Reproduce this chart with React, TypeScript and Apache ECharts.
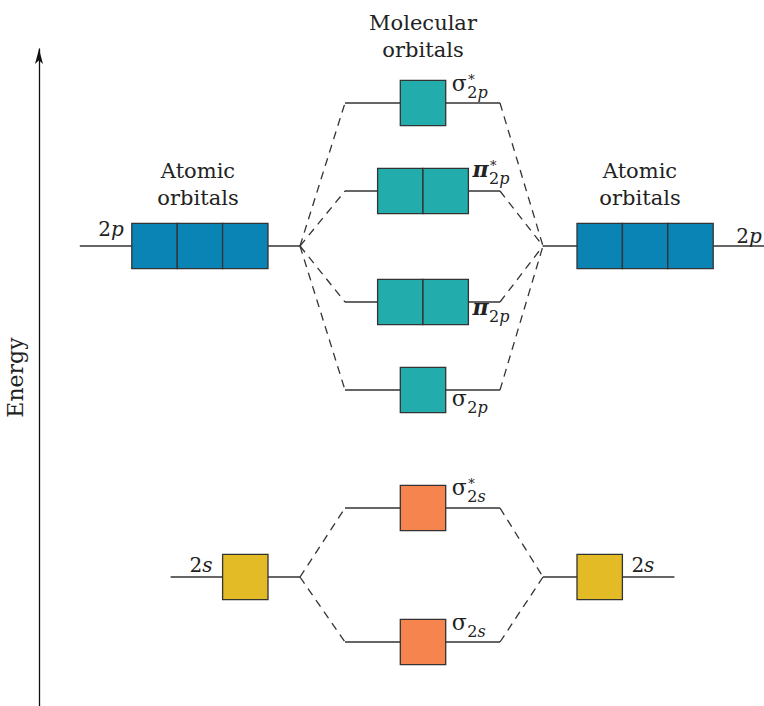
import React, { useEffect, useRef } from "react";
import * as echarts from "echarts";

// ---- data ----
// atomic orbital levels (identical on both atoms)
const aoNames = ["2p", "2s"];
const aoEnergy = [460, 129];
const aoBoxCount = [3, 1];

// molecular orbital levels
const moGreek = ["σ", "π", "π", "σ", "σ", "σ"];
const moStar = [true, true, false, false, true, false];
const moSub = ["2p", "2p", "2p", "2p", "2s", "2s"];
const moEnergy = [603, 515, 404, 316, 198, 64];
const moBoxCount = [1, 2, 2, 1, 1, 1];
const moParent = [0, 0, 0, 0, 1, 1]; // index into aoNames

const axisTitle = "Energy";
const moTitle = "Molecular\norbitals";
const aoTitle = "Atomic\norbitals";

// ---- layout / style ----
const L = {
  xMin: 39,
  xMax: 764,
  yMax: 657,
  aoInnerL: 268,
  aoInnerR: 577,
  joinL: 300,
  joinR: 543,
  moL: 345,
  moR: 500,
  moC: 423,
  stub: 52,
  box: 45.4,
};
const moLabelDx = [6, 4, 4, 6, 6, 6];
const moLabelDy = [-12, -14, 13, 16, -13, -12]; // greek baseline relative to level
const aoLabelLeft = [
  { dx: -8, dy: -10 },
  { dx: -10, dy: -5 },
];
const aoLabelRight = [
  { dx: 23, dy: -3 },
  { dx: 9, dy: -5 },
];
const aoColors = ["#0A84B4", "#E2BB26"];
const moColors = ["#22ACAC", "#F5844F"];
const ink = "#333333";
const textInk = "#222222";
const FAMILY = '"DejaVu Serif", serif';
const GREEK_SIZE = 22;
const SUB_SIZE = 16;
const STAR_SIZE = 13;

function measure(text: string, font: string): number {
  const ctx = document.createElement("canvas").getContext("2d");
  if (!ctx) return text.length * 11;
  ctx.font = font;
  return ctx.measureText(text).width;
}

function subRich(sub: string) {
  return "{n|" + sub.slice(0, 1) + "}{i|" + sub.slice(1) + "}";
}

export default function App() {
  const ref = useRef<HTMLDivElement>(null);

  useEffect(() => {
    if (!ref.current) return;
    const chart = echarts.init(ref.current, undefined, { renderer: "svg" });

    const levelData: number[][] = [];
    aoEnergy.forEach((e, i) => {
      const w = aoBoxCount[i] * L.box;
      levelData.push([L.aoInnerL - w - L.stub, L.joinL, e]);
      levelData.push([L.joinR, L.aoInnerR + w + L.stub, e]);
    });
    moEnergy.forEach((e) => levelData.push([L.moL, L.moR, e]));

    const connectorData: number[][] = [];
    moEnergy.forEach((e, j) => {
      const ae = aoEnergy[moParent[j]];
      connectorData.push([L.joinL, ae, L.moL, e]);
      connectorData.push([L.moR, e, L.joinR, ae]);
    });

    // [xLeft, energy, count, kind(0 ao / 1 mo), colorIndex]
    const boxData: number[][] = [];
    aoEnergy.forEach((e, i) => {
      const w = aoBoxCount[i] * L.box;
      boxData.push([L.aoInnerL - w, e, aoBoxCount[i], 0, i]);
      boxData.push([L.aoInnerR, e, aoBoxCount[i], 0, i]);
    });
    moEnergy.forEach((e, j) => {
      const w = moBoxCount[j] * L.box;
      boxData.push([L.moC - w / 2, e, moBoxCount[j], 1, moParent[j]]);
    });

    // [anchorX, energy, side, levelIndex]
    const aoLabelData: number[][] = [];
    aoEnergy.forEach((e, i) => {
      const w = aoBoxCount[i] * L.box;
      aoLabelData.push([L.aoInnerL - w, e, 0, i]);
      aoLabelData.push([L.aoInnerR + w, e, 1, i]);
    });

    // [boxRightX, energy, moIndex]
    const moLabelData: number[][] = moEnergy.map((e, j) => [
      L.moC + (moBoxCount[j] * L.box) / 2,
      e,
      j,
    ]);

    const greekFont = (g: string) =>
      (g === "π" ? "italic bold " : "") + GREEK_SIZE + "px " + FAMILY;

    const titleStyle = (text: string) => ({
      text,
      fontFamily: FAMILY,
      fontSize: 21,
      lineHeight: 27,
      fill: textInk,
      align: "center",
      textAlign: "center",
      verticalAlign: "top",
      textVerticalAlign: "top",
    });

    const subTokens = {
      n: {
        fontFamily: FAMILY,
        fontSize: SUB_SIZE,
        lineHeight: 16,
        fill: textInk,
      },
      i: {
        fontFamily: FAMILY,
        fontSize: SUB_SIZE,
        fontStyle: "italic",
        lineHeight: 16,
        fill: textInk,
      },
      st: {
        fontFamily: FAMILY,
        fontSize: STAR_SIZE,
        lineHeight: 10,
        fill: textInk,
        padding: [0, 0, 0, 1],
      },
    };

    const option: any = {
      animation: false,
      grid: {
        left: L.xMin,
        right: 0,
        top: 706 - L.yMax,
        bottom: 0,
        containLabel: false,
        outerBoundsMode: "none",
      },
      xAxis: { type: "value", min: L.xMin, max: L.xMax, show: false },
      yAxis: {
        type: "value",
        min: 0,
        max: L.yMax,
        name: axisTitle,
        nameLocation: "middle",
        nameRotate: 90,
        nameGap: 13,
        nameTextStyle: { fontFamily: FAMILY, fontSize: 22, color: textInk },
        axisLine: {
          show: true,
          onZero: false,
          symbol: ["none", "arrow"],
          symbolSize: [6, 15],
          lineStyle: { color: "#111", width: 1.3 },
        },
        axisTick: { show: false },
        axisLabel: { show: false },
        splitLine: { show: false },
      },
      graphic: [
        { type: "text", x: L.moC, y: 9.6, style: titleStyle(moTitle) },
        { type: "text", x: 198, y: 157.5, style: titleStyle(aoTitle) },
        { type: "text", x: 640, y: 157.5, style: titleStyle(aoTitle) },
      ],
      series: [
        {
          type: "custom",
          name: "levels",
          data: levelData,
          encode: { x: [0, 1], y: 2 },
          renderItem: (_p: any, api: any) => {
            const a = api.coord([api.value(0), api.value(2)]);
            const b = api.coord([api.value(1), api.value(2)]);
            return {
              type: "line",
              shape: { x1: a[0], y1: a[1], x2: b[0], y2: b[1] },
              style: { stroke: ink, lineWidth: 1.3 },
            };
          },
        },
        {
          type: "custom",
          name: "connectors",
          data: connectorData,
          encode: { x: [0, 2], y: [1, 3] },
          renderItem: (_p: any, api: any) => {
            const a = api.coord([api.value(0), api.value(1)]);
            const b = api.coord([api.value(2), api.value(3)]);
            return {
              type: "line",
              shape: { x1: a[0], y1: a[1], x2: b[0], y2: b[1] },
              style: { stroke: ink, lineWidth: 1.3, lineDash: [8, 6] },
            };
          },
        },
        {
          type: "custom",
          name: "boxes",
          data: boxData,
          encode: { x: 0, y: 1 },
          renderItem: (_p: any, api: any) => {
            const p = api.coord([api.value(0), api.value(1)]);
            const s = api.size([L.box, L.box]);
            const n = api.value(2);
            const fill =
              api.value(3) === 0 ? aoColors[api.value(4)] : moColors[api.value(4)];
            const children: any[] = [];
            for (let k = 0; k < n; k++) {
              children.push({
                type: "rect",
                shape: {
                  x: p[0] + k * s[0],
                  y: p[1] - s[1] / 2,
                  width: s[0],
                  height: s[1],
                },
                style: { fill, stroke: ink, lineWidth: 1.3 },
              });
            }
            return { type: "group", children };
          },
        },
        {
          type: "custom",
          name: "aoLabels",
          data: aoLabelData,
          encode: { x: 0, y: 1 },
          renderItem: (_p: any, api: any) => {
            const p = api.coord([api.value(0), api.value(1)]);
            const side = api.value(2);
            const i = api.value(3);
            const off = side === 0 ? aoLabelLeft[i] : aoLabelRight[i];
            const baseline = p[1] + off.dy;
            return {
              type: "text",
              x: p[0] + off.dx,
              y: baseline - 7,
              style: {
                text: subRich(aoNames[i]),
                align: side === 0 ? "right" : "left",
                verticalAlign: "middle",
                rich: {
                  n: { fontFamily: FAMILY, fontSize: 20, fill: textInk },
                  i: {
                    fontFamily: FAMILY,
                    fontSize: 20,
                    fontStyle: "italic",
                    fill: textInk,
                  },
                },
              },
            };
          },
        },
        {
          type: "custom",
          name: "moLabels",
          data: moLabelData,
          encode: { x: 0, y: 1 },
          renderItem: (_p: any, api: any) => {
            const p = api.coord([api.value(0), api.value(1)]);
            const j = api.value(2);
            const g = moGreek[j];
            const gx = p[0] + moLabelDx[j];
            const gBase = p[1] + moLabelDy[j];
            const gw = measure(g, greekFont(g));
            const sx = gx + gw + 0.5;
            const sBase = gBase + 7;
            const scriptText =
              (moStar[j] ? "{st|*}\n" : "") + subRich(moSub[j]);
            return {
              type: "group",
              children: [
                {
                  type: "text",
                  x: gx,
                  y: gBase - GREEK_SIZE * 0.346,
                  style: {
                    text: g,
                    font: greekFont(g),
                    fill: textInk,
                    align: "left",
                    verticalAlign: "middle",
                  },
                },
                {
                  type: "text",
                  x: sx,
                  y: sBase + 2.5,
                  style: {
                    text: scriptText,
                    align: "left",
                    verticalAlign: "bottom",
                    rich: subTokens,
                  },
                },
              ],
            };
          },
        },
      ],
    };

    chart.setOption(option);
    return () => chart.dispose();
  }, []);

  return (
    <div
      ref={ref}
      style={{ position: "absolute", left: 0, top: 0, width: 764, height: 706 }}
    />
  );
}
